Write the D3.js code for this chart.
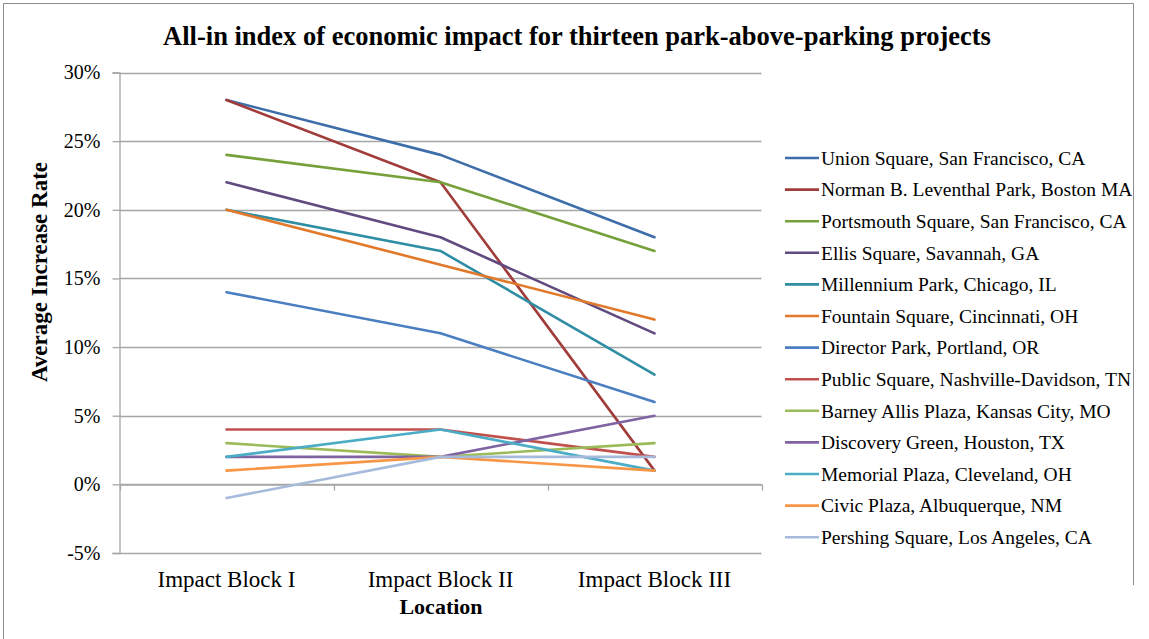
<!DOCTYPE html>
<html>
<head>
<meta charset="utf-8">
<script src="https://cdn.jsdelivr.net/npm/d3@7"></script>
<style>
  html, body { margin: 0; padding: 0; background: #fff; }
  svg { display: block; }
  text { font-family: "Liberation Serif", "Times New Roman", serif; fill: #000; }
</style>
</head>
<body>
<svg id="chart" width="1149" height="639"></svg>
<script>
const categories = ["Impact Block I", "Impact Block II", "Impact Block III"];
const seriesNames = [
  "Union Square, San Francisco, CA",
  "Norman B. Leventhal Park, Boston MA",
  "Portsmouth Square, San Francisco, CA",
  "Ellis Square, Savannah, GA",
  "Millennium Park, Chicago, IL",
  "Fountain Square, Cincinnati, OH",
  "Director Park, Portland, OR",
  "Public Square, Nashville-Davidson, TN",
  "Barney Allis Plaza, Kansas City, MO",
  "Discovery Green, Houston, TX",
  "Memorial Plaza, Cleveland, OH",
  "Civic Plaza, Albuquerque, NM",
  "Pershing Square, Los Angeles, CA"
];
const unionSquare    = [28, 24, 18];
const leventhalPark  = [28, 22, 1];
const portsmouth     = [24, 22, 17];
const ellisSquare    = [22, 18, 11];
const millennium     = [20, 17, 8];
const fountainSquare = [20, 16, 12];
const directorPark   = [14, 11, 6];
const publicSquare   = [4, 4, 2];
const barneyAllis    = [3, 2, 3];
const discoveryGreen = [2, 2, 5];
const memorialPlaza  = [2, 4, 1];
const civicPlaza     = [1, 2, 1];
const pershingSquare = [-1, 2, 2];
const seriesValues = [unionSquare, leventhalPark, portsmouth, ellisSquare, millennium,
  fountainSquare, directorPark, publicSquare, barneyAllis, discoveryGreen,
  memorialPlaza, civicPlaza, pershingSquare];
const colors = ["#3D6EA9", "#A03C3A", "#76A13A", "#614A7F", "#2F8DA4", "#E2792A",
  "#4A7EC0", "#C0504D", "#9BBB59", "#8064A2", "#4BACC6", "#F79646", "#A6BBDB"];
const yTicks = [-5, 0, 5, 10, 15, 20, 25, 30];

const svg = d3.select("#chart");
const plot = {left: 119.5, right: 761.5, top: 72.5, bottom: 553};
const serif = '"Liberation Serif", "Times New Roman", serif';

// outer border
svg.append("path")
  .attr("d", `M3.5,639 V3.5 H1133.5 V585`)
  .attr("fill", "none").attr("stroke", "#8c8c8c").attr("stroke-width", 1);

const x = d3.scaleBand().domain(categories).range([plot.left, plot.right]);
const y = d3.scaleLinear().domain([-5, 30]).range([plot.bottom, plot.top]);

// gridlines
svg.append("g").selectAll("line").data(yTicks).join("line")
  .attr("x1", plot.left).attr("x2", plot.right)
  .attr("y1", d => Math.round(y(d)) + 0.5).attr("y2", d => Math.round(y(d)) + 0.5)
  .attr("stroke", "#a6a6a6").attr("stroke-width", 1.3);

// y axis
const yAxis = d3.axisLeft(y).tickValues(yTicks).tickFormat(d => d + "%").tickSize(7).tickPadding(12);
const gy = svg.append("g").attr("transform", `translate(${plot.left},0)`).call(yAxis)
  .attr("font-family", serif);
gy.select(".domain").attr("stroke", "#a6a6a6").attr("stroke-width", 1.3);
gy.selectAll(".tick line").attr("stroke", "#a6a6a6").attr("stroke-width", 1.3);
gy.selectAll(".tick text").style("font-size", "20px").style("font-family", serif).attr("fill", "#000");

// x axis at 0%
const xAxis = d3.axisBottom(x).tickSize(0).tickFormat("");
const gx = svg.append("g").attr("transform", `translate(0,${Math.round(y(0)) + 0.5})`).call(xAxis);
gx.select(".domain").attr("stroke", "#a6a6a6").attr("stroke-width", 1.3);
const bounds = categories.map(c => x(c)).concat([plot.right]);
gx.selectAll(".bt").data(bounds).join("line").attr("class", "bt")
  .attr("x1", d => Math.round(d) + 0.5).attr("x2", d => Math.round(d) + 0.5)
  .attr("y1", 0).attr("y2", 6).attr("stroke", "#a6a6a6").attr("stroke-width", 1.3);

// category labels at bottom
svg.append("g").selectAll("text").data(categories).join("text")
  .attr("x", d => x(d) + x.bandwidth() / 2).attr("y", 587)
  .attr("text-anchor", "middle").style("font-size", "23px").text(d => d);

// lines
const line = d3.line().x((d, i) => x(categories[i]) + x.bandwidth() / 2).y(d => y(d));
svg.append("g").selectAll("path").data(seriesValues).join("path")
  .attr("d", d => line(d)).attr("fill", "none")
  .attr("stroke", (d, i) => colors[i]).attr("stroke-width", 2.6)
  .attr("stroke-linejoin", "round").attr("stroke-linecap", "round");

// title
svg.append("text").attr("x", 577).attr("y", 45).attr("text-anchor", "middle")
  .style("font-size", "26.5px").style("font-weight", "bold")
  .text("All-in index of economic impact for thirteen park-above-parking projects");

// axis titles
svg.append("text").attr("transform", "translate(47,272) rotate(-90)")
  .attr("text-anchor", "middle").style("font-size", "23px").style("font-weight", "bold")
  .text("Average Increase Rate");
svg.append("text").attr("x", 441).attr("y", 614).attr("text-anchor", "middle")
  .style("font-size", "22px").style("font-weight", "bold").text("Location");

// legend
const leg = svg.append("g").selectAll("g").data(seriesNames).join("g")
  .attr("transform", (d, i) => `translate(785,${158 + i * 31.6})`);
leg.append("line").attr("x1", 0).attr("x2", 34).attr("y1", 0).attr("y2", 0)
  .attr("stroke", (d, i) => colors[i]).attr("stroke-width", 2.6);
leg.append("text").attr("x", 36).attr("y", 0).attr("dy", "0.35em")
  .style("font-size", "19.5px").text(d => d);
</script>
</body>
</html>
